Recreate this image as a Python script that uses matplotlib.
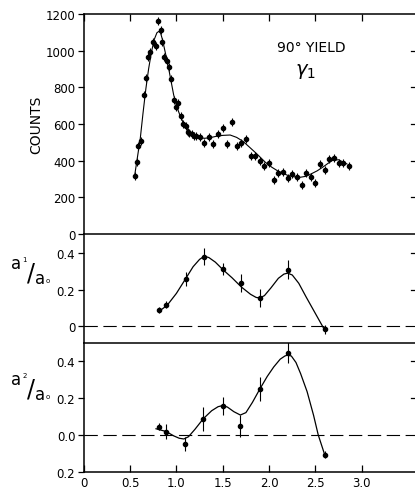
import matplotlib.pyplot as plt

# top panel: 90 deg yield of gamma_1
yield_x = [0.55, 0.57, 0.59, 0.62, 0.65, 0.67, 0.69, 0.72, 0.75, 0.78, 0.80, 0.83,
           0.85, 0.87, 0.90, 0.92, 0.94, 0.97, 1.00, 1.02, 1.05, 1.07, 1.10, 1.12,
           1.14, 1.17, 1.19, 1.21, 1.25, 1.30, 1.35, 1.40, 1.45, 1.50, 1.55, 1.60,
           1.65, 1.70, 1.75, 1.80, 1.85, 1.90, 1.95, 2.00, 2.05, 2.10, 2.15, 2.20,
           2.25, 2.30, 2.35, 2.40, 2.45, 2.50, 2.55, 2.60, 2.65, 2.70, 2.75, 2.80, 2.86]
yield_counts = [318, 391, 482, 509, 758, 851, 964, 991, 1049, 1025, 1164, 1113,
                1049, 967, 942, 913, 845, 733, 694, 713, 644, 598, 591, 558,
                553, 545, 536, 534, 531, 496, 531, 489, 545, 576, 491, 609,
                478, 496, 518, 424, 427, 398, 373, 385, 295, 335, 338, 304,
                325, 313, 267, 335, 309, 280, 384, 347, 409, 413, 389, 385, 371]
yield_err = 22

fit_x = [0.55, 0.58, 0.61, 0.64, 0.67, 0.70, 0.73, 0.76, 0.79, 0.81, 0.83, 0.85,
         0.88, 0.91, 0.94, 0.97, 1.00, 1.04, 1.08, 1.12, 1.16, 1.20, 1.25, 1.30,
         1.36, 1.43, 1.50, 1.58, 1.65, 1.72, 1.79, 1.87, 1.96, 2.03, 2.10, 2.20,
         2.27, 2.33, 2.40, 2.45, 2.52, 2.58, 2.64, 2.69, 2.75, 2.84]
fit_counts = [320, 420, 520, 660, 790, 900, 990, 1060, 1098, 1105, 1095, 1060,
              990, 920, 840, 760, 700, 645, 600, 568, 550, 538, 527, 522,
              525, 533, 538, 540, 527, 505, 473, 436, 391, 364, 342, 320,
              312, 309, 315, 327, 345, 365, 387, 403, 405, 382]

# middle panel: a1/a0
a1_x = [0.81, 0.89, 1.10, 1.30, 1.50, 1.70, 1.90, 2.20, 2.60]
a1_val = [0.089, 0.118, 0.258, 0.380, 0.313, 0.235, 0.155, 0.309, -0.015]
a1_err = [0.015, 0.02, 0.04, 0.045, 0.035, 0.05, 0.05, 0.05, 0.025]
a1_fit_x = [0.82, 0.90, 1.00, 1.10, 1.18, 1.25, 1.30, 1.35, 1.42, 1.50, 1.60,
            1.70, 1.80, 1.86, 1.90, 1.95, 2.02, 2.10, 2.16, 2.20, 2.25, 2.32,
            2.40, 2.50, 2.60]
a1_fit = [0.085, 0.115, 0.18, 0.26, 0.325, 0.365, 0.382, 0.375, 0.35, 0.31, 0.265,
          0.215, 0.175, 0.158, 0.155, 0.168, 0.21, 0.262, 0.285, 0.29, 0.28, 0.235,
          0.16, 0.07, -0.02]

# bottom panel: a2/a0
a2_x = [0.81, 0.89, 1.09, 1.29, 1.50, 1.69, 1.90, 2.20, 2.60]
a2_val = [0.045, 0.018, -0.049, 0.087, 0.156, 0.047, 0.247, 0.443, -0.107]
a2_err = [0.02, 0.04, 0.04, 0.065, 0.05, 0.06, 0.065, 0.055, 0.02]
a2_fit_x = [0.78, 0.89, 0.97, 1.03, 1.08, 1.13, 1.20, 1.29, 1.38, 1.45, 1.50,
            1.55, 1.62, 1.69, 1.75, 1.82, 1.90, 1.98, 2.05, 2.12, 2.17, 2.20,
            2.24, 2.29, 2.34, 2.41, 2.48, 2.53, 2.60]
a2_fit = [0.033, 0.018, -0.005, -0.018, -0.022, -0.01, 0.03, 0.087, 0.13, 0.152,
          0.158, 0.15, 0.125, 0.107, 0.12, 0.175, 0.247, 0.315, 0.366, 0.408, 0.425,
          0.43, 0.425, 0.39, 0.33, 0.233, 0.105, 0.0, -0.107]

x_ticks = [0, 0.5, 1.0, 1.5, 2.0, 2.5, 3.0]
x_labels = ['0', '0.5', '1.0', '1.5', '2.0', '2.5', '3.0']

plt.rcParams['font.family'] = ['DejaVu Sans']
fig = plt.figure(figsize=(4.15, 4.89), dpi=100)
XMAX = 3.574
L, W = 0.2017, 0.7983
ax1 = fig.add_axes([L, 0.5194, W, 0.4499])
ax2 = fig.add_axes([L, 0.2965, W, 0.2229])
ax3 = fig.add_axes([L, 0.0327, W, 0.2638])

for ax in (ax1, ax2, ax3):
    ax.set_xlim(0, XMAX)
    ax.spines['right'].set_visible(False)
    for s in ax.spines.values():
        s.set_linewidth(1.1)
    ax.tick_params(axis='y', left=True, right=False, direction='out',
                   length=4, width=0.9, labelsize=8.5, pad=2)
    ax.tick_params(axis='x', labelsize=8.5)

mk = dict(fmt='o', color='black', ms=3.0, elinewidth=0.8, capsize=0)

# top
ax1.errorbar(yield_x, yield_counts, yerr=yield_err, **mk)
ax1.plot(fit_x, fit_counts, color='black', lw=0.8)
ax1.set_ylim(0, 1200)
ax1.set_yticks([0, 200, 400, 600, 800, 1000, 1200])
ax1.set_xticks(x_ticks)
ax1.tick_params(axis='x', bottom=False, labelbottom=False, top=True,
                direction='in', length=5, width=0.9)
ax1.spines['bottom'].set_visible(False)

# middle
ax2.errorbar(a1_x, a1_val, yerr=a1_err, **mk)
ax2.plot(a1_fit_x, a1_fit, color='black', lw=0.9)
ax2.axhline(0, color='black', lw=0.8, dashes=(12, 5))
ax2.set_ylim(-0.09, 0.503)
ax2.set_yticks([0, 0.2, 0.4])
ax2.set_yticklabels(['0', '0.2', '0.4'])
ax2.set_xticks([])
ax2.spines['bottom'].set_visible(False)

# bottom
ax3.errorbar(a2_x, a2_val, yerr=a2_err, **mk)
ax3.plot(a2_fit_x, a2_fit, color='black', lw=0.9)
ax3.axhline(0, color='black', lw=0.8, dashes=(12, 5))
ax3.set_ylim(-0.2, 0.495)
ax3.set_yticks([-0.2, 0, 0.2, 0.4])
ax3.set_yticklabels(['0.2', '0.0', '0.2', '0.4'])
ax3.set_xticks(x_ticks)
ax3.set_xticklabels(x_labels)
ax3.tick_params(axis='x', direction='in', length=5, width=0.9, pad=3)

# right-hand inward ticks
for ax, ticks in ((ax1, [200, 400, 600, 800, 1000]), (ax2, [0.2, 0.4]), (ax3, [0.2, 0.4])):
    for t in ticks:
        ax.plot([XMAX - 0.04, XMAX], [t, t], color='black', lw=0.9, clip_on=False)

fig.text(0.087, 0.744, 'COUNTS', rotation=90, ha='center', va='center', fontsize=10)
fig.text(0.749, 0.902, '90° YIELD', ha='center', va='center', fontsize=10)
fig.text(0.735, 0.853, r'$\gamma_{1}$', ha='center', va='center', fontsize=14)

# a1/a0 and a2/a0 labels
def ratio_label(yc, sub):
    fig.text(0.038, yc + 0.013, 'a', ha='center', va='center', fontsize=12)
    fig.text(0.060, yc + 0.021, sub, ha='center', va='center', fontsize=5)
    fig.text(0.074, yc - 0.008, '/', ha='center', va='center', fontsize=17)
    fig.text(0.096, yc - 0.019, 'a', ha='center', va='center', fontsize=12)
    fig.text(0.115, yc - 0.022, 'o', ha='center', va='center', fontsize=5)

ratio_label(1 - 270 / 489, '1')
ratio_label(1 - 386 / 489, '2')

fig.savefig('out.png', dpi=100)
